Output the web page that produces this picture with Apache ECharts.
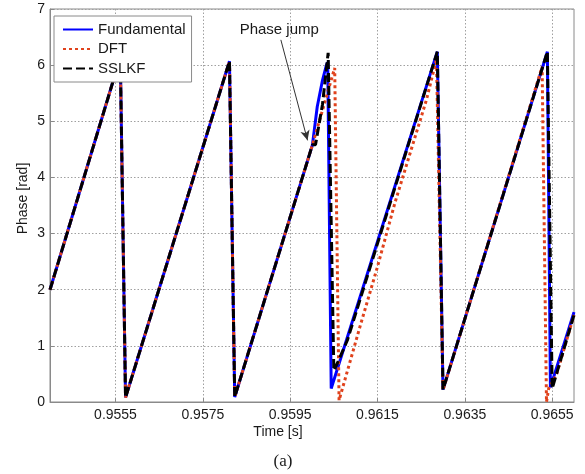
<!DOCTYPE html>
<html>
<head>
<meta charset="utf-8">
<script src="https://cdn.jsdelivr.net/npm/echarts@6/dist/echarts.min.js"></script>
<style>
html,body{margin:0;padding:0;background:#fff;}
#chart{width:585px;height:474px;}
</style>
</head>
<body>
<div id="chart"></div>
<script>
// ---- Data (time [s], phase [rad]) ----
const xTicks = [0.9555, 0.9575, 0.9595, 0.9615, 0.9635, 0.9655];
const yTicks = [0, 1, 2, 3, 4, 5, 6, 7];

const fundT = [0.95400, 0.95561, 0.95573, 0.95811, 0.95823, 0.96001, 0.96012, 0.96024, 0.96033, 0.96036, 0.96044, 0.96287, 0.96300, 0.96539, 0.96546, 0.96600];
const fundP = [2.00, 6.14, 0.08, 6.07, 0.09, 4.58, 5.26, 5.73, 6.00, 6.05, 0.24, 6.24, 0.22, 6.24, 0.26, 1.60];

const dftT = [0.95400, 0.95561, 0.95573, 0.95811, 0.95823, 0.96001, 0.96052, 0.96062, 0.96112, 0.96150, 0.96190, 0.96262, 0.96285, 0.96300, 0.96527, 0.96537, 0.96542, 0.96560, 0.96600];
const dftP = [2.00, 6.14, 0.08, 6.07, 0.09, 4.58, 5.95, 0.03, 1.40, 2.41, 3.55, 5.38, 6.10, 0.21, 5.97, 0.00, 0.24, 0.49, 1.55];

const sslkfT = [0.95400, 0.95561, 0.95573, 0.95811, 0.95823, 0.96001, 0.96008, 0.96024, 0.96037, 0.96050, 0.96058, 0.96081, 0.96287, 0.96300, 0.96539, 0.96550, 0.96600];
const sslkfP = [2.00, 6.14, 0.08, 6.07, 0.09, 4.58, 4.58, 5.30, 6.22, 0.56, 0.69, 1.10, 6.24, 0.22, 6.24, 0.24, 1.55];

const seriesNames = ['Fundamental', 'DFT', 'SSLKF'];
const annotationText = 'Phase jump';
const annotationPos = [0.95925, 6.63];
const arrowFrom = [0.959287, 6.45];
const arrowTo = [0.959898, 4.66];

function pairs(t, p) { return t.map((v, i) => [v, p[i]]); }

const FONT = '"Liberation Sans", Arial, sans-serif';
const chart = echarts.init(document.getElementById('chart'), null, {renderer: 'canvas'});

const option = {
  animation: false,
  backgroundColor: '#fff',
  grid: {left: 50, right: 11, top: 9, bottom: 72, show: true, borderColor: '#8a8a8a', borderWidth: 1, backgroundColor: 'transparent'},
  xAxis: {
    type: 'value', min: 0.954, max: 0.966,
    axisLine: {show: true, lineStyle: {color: '#8a8a8a', width: 1}},
    axisTick: {show: true, inside: true, length: 4, lineStyle: {color: '#8a8a8a'}, customValues: xTicks},
    axisLabel: {show: true, customValues: xTicks, formatter: v => v.toFixed(4), color: '#1a1a1a', fontSize: 14, fontFamily: FONT, margin: 6},
    splitLine: {show: true, lineStyle: {color: '#a0a0a0', type: [1.5, 2], width: 1}}
  },
  yAxis: {
    type: 'value', min: 0, max: 7, interval: 1,
    name: 'Phase [rad]', nameLocation: 'middle', nameGap: 20, nameMoveOverlap: false,
    nameTextStyle: {color: '#1a1a1a', fontSize: 14, fontFamily: FONT, padding: [0, 0, 0, 14]},
    axisLine: {show: true, lineStyle: {color: '#8a8a8a', width: 1}},
    axisTick: {show: true, inside: true, length: 4, lineStyle: {color: '#8a8a8a'}},
    axisLabel: {color: '#1a1a1a', fontSize: 14, fontFamily: FONT, margin: 5},
    splitLine: {show: true, lineStyle: {color: '#a0a0a0', type: [1.5, 2], width: 1}}
  },
  legend: {
    orient: 'vertical', left: 54, top: 16, z: 20, zlevel: 0,
    padding: [6, 6, 6, 8], itemGap: 4.5, itemWidth: 30, itemHeight: 14,
    backgroundColor: '#fff', borderColor: '#8a8a8a', borderWidth: 1, borderRadius: 0,
    itemStyle: {opacity: 0},
    textStyle: {fontSize: 15, lineHeight: 15, color: '#1a1a1a', fontFamily: FONT},
    data: seriesNames
  },
  series: [
    {
      name: seriesNames[0], type: 'line', data: pairs(fundT, fundP),
      symbol: 'none', z: 2,
      lineStyle: {color: '#0000ff', width: 3, type: 'solid'},
      itemStyle: {color: '#0000ff'}
    },
    {
      name: seriesNames[1], type: 'line', data: pairs(dftT, dftP),
      symbol: 'none', z: 3,
      lineStyle: {color: '#e0421c', width: 3, type: [3, 3]},
      itemStyle: {color: '#e0421c'}
    },
    {
      name: seriesNames[2], type: 'line', data: pairs(sslkfT, sslkfP),
      symbol: 'none', z: 4,
      lineStyle: {color: '#000', width: 3, type: [9, 4]},
      itemStyle: {color: '#000'},
      markLine: {
        silent: true, animation: false,
        symbol: ['none', 'arrow'], symbolSize: [7, 10],
        label: {show: false},
        lineStyle: {color: '#333', width: 1, type: 'solid'},
        data: [[{coord: arrowFrom}, {coord: arrowTo}]]
      },
      markPoint: {
        silent: true, animation: false,
        symbol: 'circle', symbolSize: 0,
        label: {show: true, position: 'inside', formatter: annotationText, color: '#1a1a1a', fontSize: 15, fontFamily: FONT},
        data: [{coord: annotationPos}]
      }
    }
  ],
  graphic: [
    {type: 'text', x: 278, y: 432, style: {text: 'Time [s]', font: '14px ' + FONT, fill: '#1a1a1a', textAlign: 'center', textVerticalAlign: 'middle', align: 'center', verticalAlign: 'middle'}},
    {type: 'text', x: 283, y: 462, style: {text: '(a)', font: '17px "Liberation Serif", "Times New Roman", serif', fill: '#1a1a1a', textAlign: 'center', textVerticalAlign: 'middle', align: 'center', verticalAlign: 'middle'}}
  ]
};
chart.setOption(option);
</script>
</body>
</html>
